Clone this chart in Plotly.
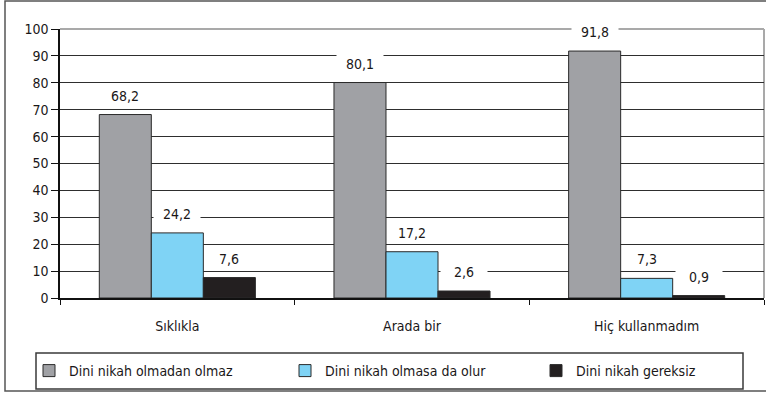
import plotly.graph_objects as go

# Chart data
categories = ["Sıklıkla", "Arada bir", "Hiç kullanmadım"]
series_names = ["Dini nikah olmadan olmaz", "Dini nikah olmasa da olur", "Dini nikah gereksiz"]
olmadan_olmaz = [68.2, 80.1, 91.8]
olmasa_da_olur = [24.2, 17.2, 7.3]
gereksiz = [7.6, 2.6, 0.9]
y_ticks = [0, 10, 20, 30, 40, 50, 60, 70, 80, 90, 100]

series_values = [olmadan_olmaz, olmasa_da_olur, gereksiz]
colors = ["#a0a1a5", "#7fd3f5", "#231f20"]
legend_ids = ["legend", "legend2", "legend3"]

FONT = "Liberation Sans Narrow, Arial Narrow, DejaVu Sans Condensed, sans-serif"
TEXT = "#1a1718"
FS = 14

W, H = 766, 396
M_L, M_R, M_T, M_B = 60, 2, 29, 98
PW, PH = W - M_L - M_R, H - M_T - M_B
BARGAP = 0.335
bar_px = PW / len(categories) * (1 - BARGAP) / len(series_values)


def px_x(x):
    return (x - M_L) / PW


def px_y(y):
    return (H - M_B - y) / PH


fig = go.Figure()
for name, vals, col, lg in zip(series_names, series_values, colors, legend_ids):
    fig.add_trace(go.Bar(
        name=name, x=categories, y=vals, legend=lg,
        marker=dict(color=col, line=dict(color="#2a2a2a", width=1)),
    ))

# value labels on white boxes above each bar
annotations = []
for i, vals in enumerate(series_values):
    for cat, v in zip(categories, vals):
        annotations.append(dict(
            x=cat, y=v, xref="x", yref="y",
            text=f"{v:.1f}".replace(".", ","),
            showarrow=False, xshift=(i - 1) * bar_px, yshift=19,
            yanchor="middle", bgcolor="white", width=42, borderpad=2,
            font=dict(family=FONT, size=FS, color=TEXT),
        ))

shapes = [
    # light top and right border of the plot area
    dict(type="line", xref="paper", yref="paper", x0=0, x1=1, y0=1, y1=1,
         line=dict(color="#a9a9a9", width=2), layer="below"),
    dict(type="line", xref="paper", yref="paper", x0=1, x1=1, y0=0, y1=1,
         line=dict(color="#a9a9a9", width=2), layer="below"),
    # legend frame
    dict(type="rect", xref="paper", yref="paper",
         x0=px_x(36), x1=px_x(743), y0=px_y(389), y1=px_y(353),
         line=dict(color="#3a3a3a", width=1.5)),
    # outer chart frame
    dict(type="rect", xref="paper", yref="paper",
         x0=px_x(5), x1=px_x(768), y0=px_y(391), y1=px_y(1),
         line=dict(color="#555555", width=1.5)),
]

legend_style = dict(orientation="h", bgcolor="rgba(0,0,0,0)", borderwidth=0,
                    xanchor="left", yanchor="middle", y=px_y(371),
                    font=dict(family=FONT, size=FS, color=TEXT))

fig.update_layout(
    width=W, height=H,
    margin=dict(l=M_L, r=M_R, t=M_T, b=M_B),
    paper_bgcolor="white", plot_bgcolor="white",
    barmode="group", bargap=BARGAP, bargroupgap=0,
    font=dict(family=FONT, size=FS, color=TEXT),
    showlegend=True,
    legend=dict(legend_style, x=px_x(29)),
    legend2=dict(legend_style, x=px_x(285)),
    legend3=dict(legend_style, x=px_x(536)),
    xaxis=dict(
        showline=True, linecolor="#111111", linewidth=1.5,
        ticks="outside", tickson="boundaries", ticklen=5, tickcolor="#111111",
        ticklabelstandoff=14, showgrid=False,
        tickfont=dict(family=FONT, size=FS, color=TEXT),
    ),
    yaxis=dict(
        range=[0, 100], tickvals=y_ticks,
        showline=True, linecolor="#111111", linewidth=1.5,
        ticks="outside", ticklen=7, tickcolor="#111111",
        showgrid=True, gridcolor="#2e2e2e", gridwidth=1.3, zeroline=False,
        tickfont=dict(family=FONT, size=FS, color=TEXT),
    ),
    annotations=annotations,
    shapes=shapes,
)

fig.write_html("out.html")
